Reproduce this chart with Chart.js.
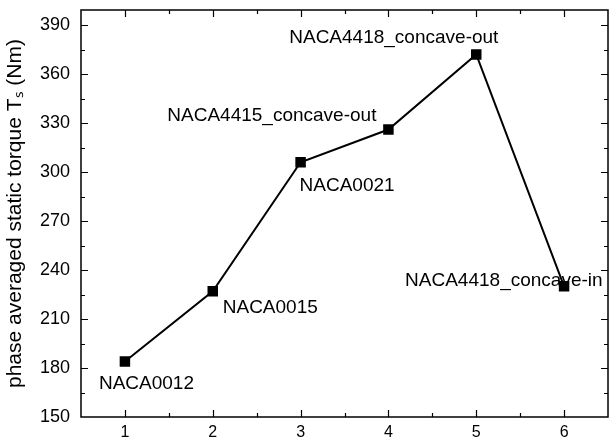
<!DOCTYPE html>
<html><head><meta charset="utf-8">
<script src="https://cdn.jsdelivr.net/npm/chart.js@4/dist/chart.umd.min.js"></script>
<style>html,body{margin:0;padding:0;background:#fff}#wrap{width:616px;height:441px}</style>
</head><body><div id="wrap"><canvas id="c" width="616" height="441"></canvas></div>
<script>
const xValues = [1, 2, 3, 4, 5, 6];
const torque = [184, 227, 306, 326, 372, 230];
const airfoils = ["NACA0012", "NACA0015", "NACA0021", "NACA4415_concave-out", "NACA4418_concave-out", "NACA4418_concave-in"];
const yTicks = [150, 180, 210, 240, 270, 300, 330, 360, 390];
const xTicks = [1, 2, 3, 4, 5, 6];

const FONT = "'Liberation Sans', Arial, sans-serif";
// label placement relative to each point: [dx, dy, align]
const labelPlace = [[-26, 22, 'left'], [10, 17, 'left'], [-1, 24, 'left'], [-12, -14, 'right'], [-187, -17, 'left'], [-159, -6, 'left']];

const frameTicks = {
  id: 'frameTicks',
  afterDraw(chart) {
    const ctx = chart.ctx, a = chart.chartArea;
    const xs = chart.scales.x, ys = chart.scales.y;
    ctx.save();
    ctx.strokeStyle = '#000';
    ctx.lineWidth = 1.5;
    ctx.strokeRect(a.left, a.top, a.right - a.left, a.bottom - a.top);
    ctx.lineWidth = 1.2;
    ctx.beginPath();
    for (let v = 0.5; v <= 6.5; v += 0.5) {
      const p = Math.round(xs.getPixelForValue(v)) + 0.5;
      if (p <= a.left + 1 || p >= a.right - 1) continue;
      const L = Number.isInteger(v) ? 7 : 4;
      ctx.moveTo(p, a.bottom); ctx.lineTo(p, a.bottom - L);
      ctx.moveTo(p, a.top); ctx.lineTo(p, a.top + L);
    }
    for (let v = 150; v <= 399; v += 15) {
      const p = Math.round(ys.getPixelForValue(v)) + 0.5;
      if (p >= a.bottom - 1 || p <= a.top + 1) continue;
      const L = (v % 30 === 0) ? 7 : 4;
      ctx.moveTo(a.left, p); ctx.lineTo(a.left + L, p);
      ctx.moveTo(a.right, p); ctx.lineTo(a.right - L, p);
    }
    ctx.stroke();
    // annotations
    ctx.fillStyle = '#000';
    ctx.font = '19px ' + FONT;
    ctx.textBaseline = 'middle';
    xValues.forEach((xv, i) => {
      const px = xs.getPixelForValue(xv), py = ys.getPixelForValue(torque[i]);
      const pl = labelPlace[i];
      ctx.textAlign = pl[2];
      ctx.fillText(airfoils[i], px + pl[0], py + pl[1]);
    });
    ctx.restore();
  }
};

new Chart(document.getElementById('c'), {
  type: 'line',
  data: {
    datasets: [{
      data: xValues.map((x, i) => ({x: x, y: torque[i]})),
      borderColor: '#000', backgroundColor: '#000', borderWidth: 2,
      pointStyle: 'rect', pointRadius: 6, pointHoverRadius: 6, tension: 0
    }]
  },
  options: {
    responsive: false, animation: false, events: [],
    layout: {padding: {left: 0, right: 4, top: 10, bottom: 0}},
    plugins: {legend: {display: false}, tooltip: {enabled: false}},
    scales: {
      x: {
        type: 'linear', min: 0.5, max: 6.5,
        afterBuildTicks(s) { s.ticks = xTicks.map(v => ({value: v})); },
        afterFit(s) { s.height = 24; s.paddingLeft = 0; s.paddingRight = 0; },
        grid: {display: false, drawTicks: false},
        border: {display: false},
        ticks: {color: '#000', font: {family: FONT, size: 16}, padding: 6}
      },
      y: {
        type: 'linear', min: 150, max: 399.2,
        afterBuildTicks(s) { s.ticks = yTicks.map(v => ({value: v})); },
        afterFit(s) { s.width = 81; s.paddingTop = 0; s.paddingBottom = 0; },
        grid: {display: false, drawTicks: false},
        border: {display: false},
        ticks: {color: '#000', font: {family: FONT, size: 18}, padding: 11},
        title: {display: true, text: 'phase averaged static torque T\u209B (Nm)', color: '#000', font: {family: FONT, size: 21}, padding: {top: 3, bottom: 0}}
      }
    }
  },
  plugins: [frameTicks]
});
</script>
</body></html>
